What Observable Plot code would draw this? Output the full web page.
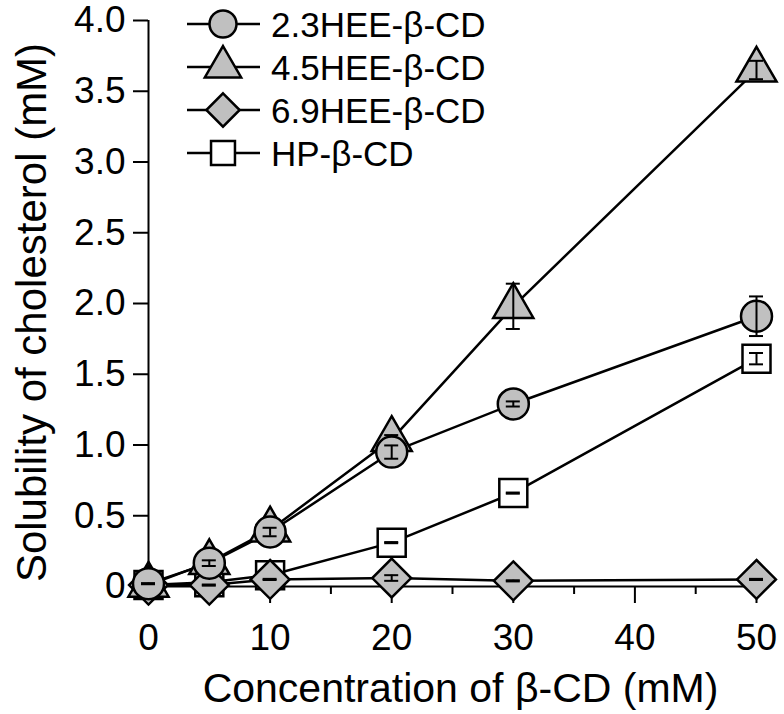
<!DOCTYPE html>
<html><head><meta charset="utf-8">
<script src="https://cdn.jsdelivr.net/npm/d3@7"></script>
<script src="https://cdn.jsdelivr.net/npm/@observablehq/plot@0.6"></script>
<style>body{margin:0;background:#fff;} svg{display:block;}</style>
</head><body><div id="chart"></div>
<script>
// ---- data ----
const conc = [0, 5, 10, 20, 30, 50];
const seriesNames = ["2.3HEE-β-CD", "4.5HEE-β-CD", "6.9HEE-β-CD", "HP-β-CD"];
const hee23 = [0.02, 0.165, 0.385, 0.95, 1.29, 1.91];
const hee23Err = [0.004, 0.02, 0.03, 0.047, 0.018, 0.14];
const hee45 = [0.01, 0.17, 0.40, 1.04, 1.98, 3.65];
const hee45Err = [0.004, 0.01, 0.02, 0.03, 0.16, 0.065];
const hee69 = [0.01, 0.01, 0.05, 0.06, 0.04, 0.05];
const hee69Err = [0.004, 0.004, 0.004, 0.02, 0.004, 0.004];
const hp = [0.01, 0.03, 0.08, 0.31, 0.66, 1.61];
const hpErr = [0.004, 0.004, 0.004, 0.004, 0.004, 0.04];

const yTicks = [0, 0.5, 1, 1.5, 2, 2.5, 3, 3.5, 4];
const yTickLabels = ["0", "0.5", "1.0", "1.5", "2.0", "2.5", "3.0", "3.5", "4.0"];
const xTicks = [0, 10, 20, 30, 40, 50];
const xMinorTicks = [5, 15, 25, 35, 45];
const xTitle = "Concentration of β-CD (mM)";
const yTitle = "Solubility of cholesterol (mM)";

// ---- styles ----
const gray = "#c0c0c0";
const styles = [
  {symbol: "circle", r: 15.5, fill: gray, lr: 13.5},
  {symbol: "triangle", r: 14.9, fill: gray, lr: 13.5},
  {symbol: "diamond2", r: 17.5, fill: gray, lr: 15},
  {symbol: "square", r: 15.8, fill: "white", lr: 13.5}
];
const values = [hee23, hee45, hee69, hp];
const errs = [hee23Err, hee45Err, hee69Err, hpErr];

const rows = [];
seriesNames.forEach((s, si) => conc.forEach((x, i) => rows.push({series: s, si, x, y: values[si][i], e: errs[si][i]})));

const yLabelMap = new Map(yTicks.map((t, i) => [t, yTickLabels[i]]));
const drawOrder = [3, 1, 2, 0];
const font = "'Liberation Sans', Arial, sans-serif";

const marks = [
  Plot.ruleX([0], {stroke: "black", strokeWidth: 2}),
  Plot.ruleY([0], {stroke: "black", strokeWidth: 2}),
  Plot.axisY({ticks: yTicks, tickFormat: d => yLabelMap.get(d), tickSize: 15, tickPadding: 8, fontSize: 37, label: null, strokeWidth: 2, color: "black"}),
  Plot.axisX({ticks: xTicks, tickSize: 17, tickPadding: 20, fontSize: 37, label: null, strokeWidth: 2, color: "black"}),
  Plot.axisX({ticks: xMinorTicks, tickSize: 8, tickFormat: () => "", label: null, strokeWidth: 2, color: "black"}),
  Plot.text([yTitle], {frameAnchor: "left", textAnchor: "middle", lineAnchor: "middle", dx: -116, dy: 9, rotate: -90, text: d => d, fontSize: 42, fill: "black"}),
  Plot.text([xTitle], {frameAnchor: "bottom", textAnchor: "middle", lineAnchor: "middle", dx: 8, dy: 102, text: d => d, fontSize: 41, fill: "black"}),
  Plot.line(rows, {x: "x", y: "y", z: "series", stroke: "black", strokeWidth: 2.5})
];
for (const si of drawOrder) {
  const data = rows.filter(d => d.si === si);
  const st = styles[si];
  marks.push(Plot.dot(data, {x: "x", y: "y", symbol: () => st.symbol, r: st.r, fill: st.fill, stroke: "black", strokeWidth: 2.5}));
  marks.push(Plot.ruleX(data, {x: "x", y1: d => d.y - d.e, y2: d => d.y + d.e, stroke: "black", strokeWidth: 2}));
  marks.push(Plot.ruleY(data, {x1: "x", x2: "x", y: d => d.y + d.e, insetLeft: -7, insetRight: -7, stroke: "black", strokeWidth: 2}));
  marks.push(Plot.ruleY(data, {x1: "x", x2: "x", y: d => d.y - d.e, insetLeft: -7, insetRight: -7, stroke: "black", strokeWidth: 2}));
}

const chart = Plot.plot({
  width: 784, height: 714,
  marginLeft: 148, marginRight: 28, marginTop: 20, marginBottom: 128,
  style: {fontFamily: font, background: "white", color: "black"},
  x: {domain: [0, 50]},
  y: {domain: [0, 4]},
  symbol: {type: "identity"},
  marks
});

// legend drawn inside the svg
const svg = d3.select(chart);
const lg = svg.append("g").attr("font-family", font);
const symMap = {circle: d3.symbolCircle, triangle: d3.symbolTriangle, diamond2: d3.symbolDiamond2, square: d3.symbolSquare};
seriesNames.forEach((name, i) => {
  const st = styles[i];
  const g = lg.append("g").attr("transform", `translate(187,${24 + i * 43})`);
  g.append("line").attr("x1", 0).attr("x2", 73).attr("y1", 0).attr("y2", 0).attr("stroke", "black").attr("stroke-width", 2.5);
  g.append("path").attr("d", d3.symbol(symMap[st.symbol], Math.PI * st.lr * st.lr)()).attr("transform", "translate(36,0)")
    .attr("fill", st.fill).attr("stroke", "black").attr("stroke-width", 2.5);
  g.append("text").attr("x", 84).attr("y", 0).attr("dy", "0.36em").attr("text-anchor", "start")
    .attr("font-size", 35).attr("fill", "black").text(name);
});

document.getElementById("chart").appendChild(chart);
</script>
</body></html>
